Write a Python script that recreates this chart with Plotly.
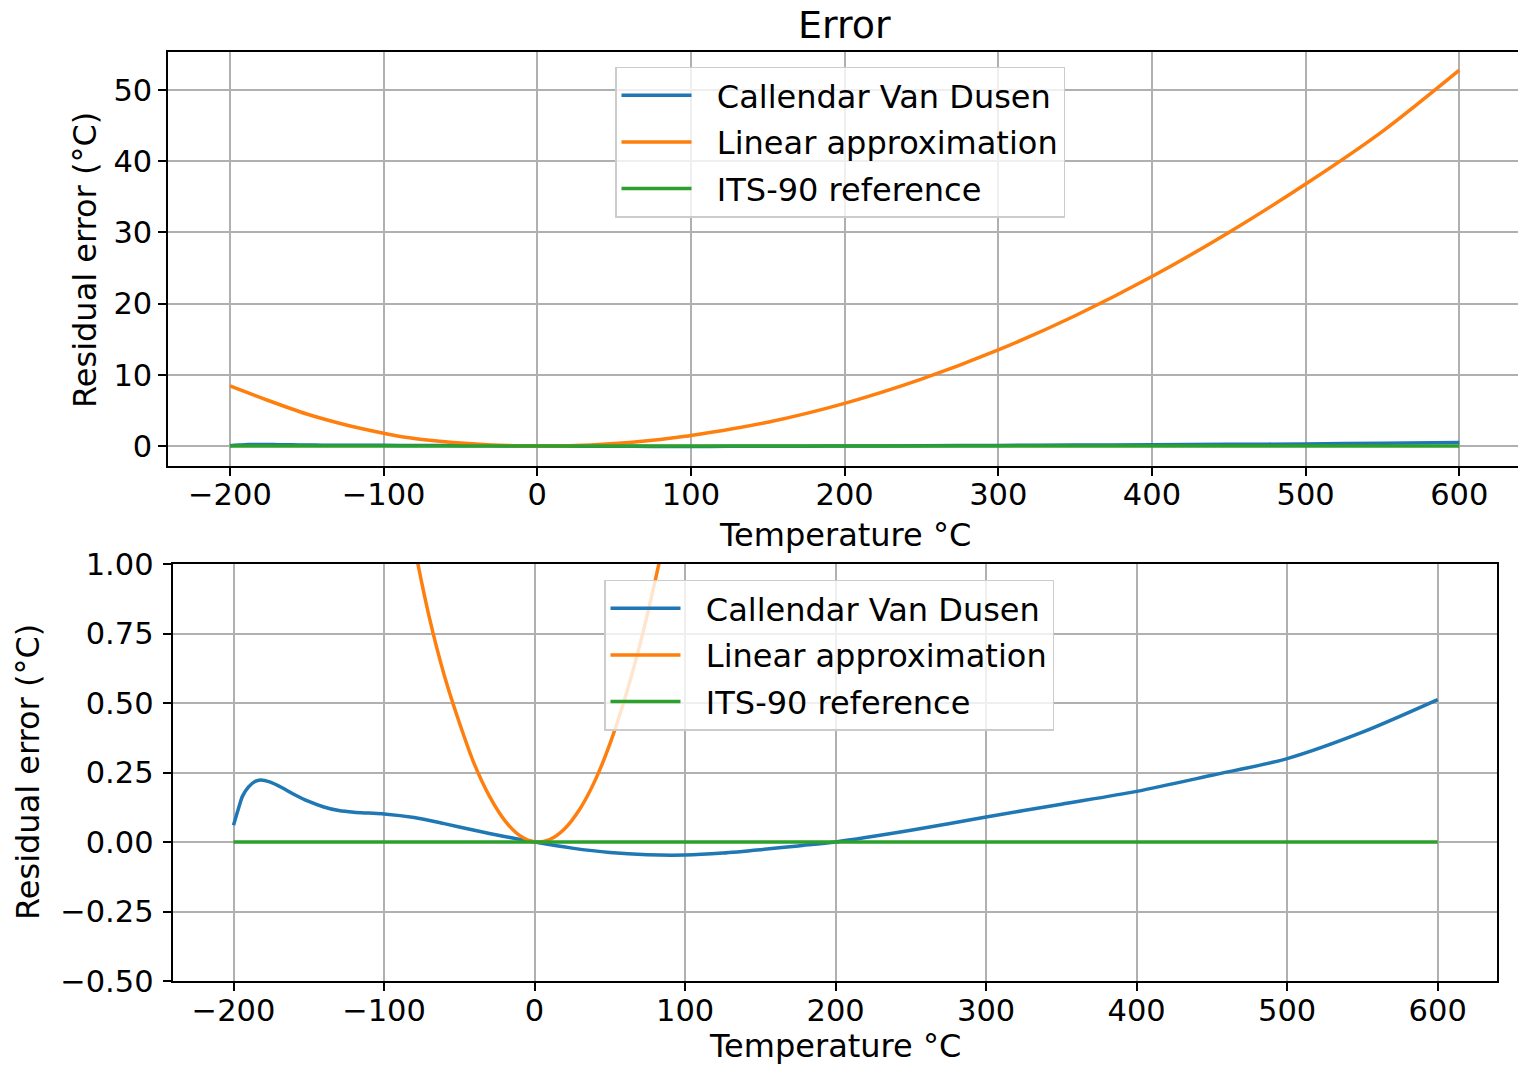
import plotly.graph_objects as go

# ---------------- data ----------------
cvd_temp = [-200, -197, -194, -190, -186, -182, -176, -168, -160, -150, -140, -130, -120,
            -110, -100, -80, -60, -40, -20, 0, 25, 50, 75, 100, 125, 150, 175, 200,
            250, 300, 350, 400, 450, 500, 550, 600]
cvd_error = [0.06, 0.115, 0.165, 0.198, 0.217, 0.223, 0.216, 0.196, 0.172, 0.146, 0.126,
             0.113, 0.107, 0.104, 0.101, 0.088, 0.066, 0.042, 0.02, 0.0, -0.022, -0.038,
             -0.046, -0.047, -0.04, -0.028, -0.014, 0.0, 0.042, 0.09, 0.136, 0.182, 0.24,
             0.30, 0.395, 0.512]

lin_temp = [-200, -175, -150, -125, -100, -90, -80, -70, -60, -50, -40, -30, -20, -10, 0,
            10, 20, 30, 40, 50, 60, 70, 80, 90, 100, 150, 200, 250, 300, 350, 400, 450,
            500, 550, 600]
lin_error = [8.45, 6.4, 4.5, 3.0, 1.8, 1.38, 1.07, 0.81, 0.6, 0.43, 0.28, 0.165, 0.079,
             0.024, 0.001, 0.009, 0.048, 0.118, 0.219, 0.352, 0.516, 0.71, 0.937, 1.19,
             1.48, 3.35, 6.0, 9.4, 13.5, 18.3, 23.8, 30.0, 36.8, 44.2, 52.8]

its_temp = [-200, 600]
its_error = [0.0, 0.0]

series_names = ["Callendar Van Dusen", "Linear approximation", "ITS-90 reference"]
series_colors = ["#1f77b4", "#ff7f0e", "#2ca02c"]

x_ticks = [-200, -100, 0, 100, 200, 300, 400, 500, 600]
top_y_ticks = [0, 10, 20, 30, 40, 50]
bottom_y_ticks = [-0.5, -0.25, 0.0, 0.25, 0.5, 0.75, 1.0]

# ---------------- figure ----------------
W, H = 1518, 1068
FONT = "DejaVu Sans"
FS = 32
TFS = 30.5
NB = "\u00a0\u00a0"  # gap between legend line and text

def px_x(p):
    return p / W

def px_y(p):
    return 1 - p / H

fig = go.Figure()

datasets = [(cvd_temp, cvd_error, "spline"), (lin_temp, lin_error, "spline"),
            (its_temp, its_error, "linear")]

for panel, (xa, ya, lg) in enumerate([("x", "y", "legend"), ("x2", "y2", "legend2")]):
    for i, (tx, ty, shape) in enumerate(datasets):
        fig.add_trace(go.Scatter(
            x=tx, y=ty, mode="lines", name=NB + series_names[i],
            line=dict(color=series_colors[i], width=3.5, shape=shape, smoothing=0.8),
            xaxis=xa, yaxis=ya, legend=lg, legendgroup=f"{lg}_{i}",
            showlegend=True))

axis_common = dict(
    showgrid=True, gridcolor="#b0b0b0", gridwidth=2,
    showline=True, linecolor="black", linewidth=2,
    ticks="outside", ticklen=8, tickwidth=2, tickcolor="black",
    tickfont=dict(family=FONT, size=TFS, color="black"),
    zeroline=False, automargin=False,
)

legend_common = dict(
    xanchor="left", yanchor="top",
    bgcolor="rgba(255,255,255,0.8)", bordercolor="#cccccc", borderwidth=1.5,
    font=dict(family=FONT, size=FS, color="black"),
    itemwidth=70, tracegroupgap=2, traceorder="grouped",
)

fig.update_layout(
    width=W, height=H,
    margin=dict(l=0, r=0, t=0, b=0, autoexpand=False),
    paper_bgcolor="white", plot_bgcolor="white",
    font=dict(family=FONT, color="black"),
    xaxis=dict(domain=[px_x(168.3), 1.0], range=[-240.1, 638.2], anchor="y",
               tickvals=x_ticks, mirror=True, ticklabelstandoff=-8, **axis_common),
    yaxis=dict(domain=[px_y(466), px_y(51.7)], range=[-2.8, 55.38], anchor="x",
               tickvals=top_y_ticks, mirror=False, ticklabelstandoff=0, **axis_common),
    xaxis2=dict(domain=[px_x(172.7), px_x(1497.3)], range=[-240.4, 639.6], anchor="y2",
                tickvals=x_ticks, mirror=True, ticklabelstandoff=-7, **axis_common),
    yaxis2=dict(domain=[px_y(981), px_y(564)], range=[-0.5, 1.0], anchor="x2",
                tickvals=bottom_y_ticks, tickformat=".2f", mirror=True,
                ticklabelstandoff=3, **axis_common),
    legend=dict(x=px_x(615), y=px_y(66.5), **legend_common),
    legend2=dict(x=px_x(604), y=px_y(579.5), **legend_common),
)

annotations = [
    dict(text="Error", x=px_x(844), y=px_y(25), font=dict(size=38)),
    dict(text="Temperature °C", x=px_x(844.5), y=px_y(535), font=dict(size=FS)),
    dict(text="Residual error (°C)", x=px_x(85), y=px_y(260), textangle=-90,
         font=dict(size=FS)),
    dict(text="Temperature °C", x=px_x(835), y=px_y(1046), font=dict(size=FS)),
    dict(text="Residual error (°C)", x=px_x(28), y=px_y(772), textangle=-90,
         font=dict(size=FS)),
]
for a in annotations:
    a.update(xref="paper", yref="paper", showarrow=False, xanchor="center",
             yanchor="middle")
    a["font"].update(family=FONT, color="black")
fig.update_layout(annotations=annotations)

fig.write_html("out.html", config={"displayModeBar": False},
               post_script="document.body.style.margin='0px';document.body.style.overflow='hidden';")
